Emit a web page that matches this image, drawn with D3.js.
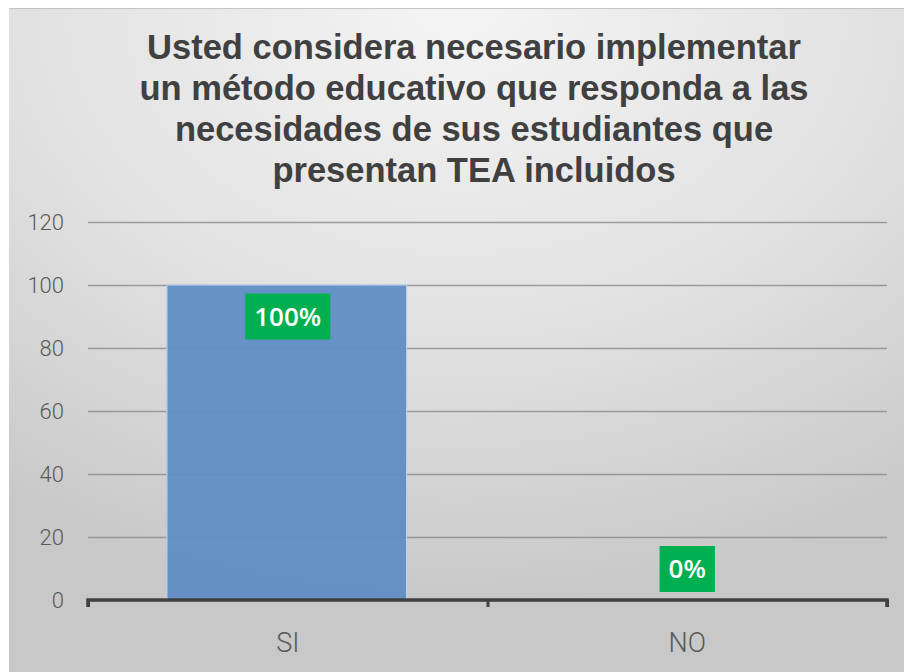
<!DOCTYPE html>
<html>
<head>
<meta charset="utf-8">
<script src="https://cdn.jsdelivr.net/npm/d3@7"></script>
<style>
  body { margin: 0; background: #fff; }
  svg { display: block; }
</style>
</head>
<body>
<svg></svg>
<script>
// chart data
var categories = ["SI", "NO"];
var values = [100, 0];
var labels = ["100%", "0%"];
var yTicks = [0, 20, 40, 60, 80, 100, 120];
var titleLines = [
  "Usted considera necesario implementar",
  "un método educativo que responda a las",
  "necesidades de sus estudiantes que",
  "presentan TEA incluidos"
];

var W = 904, H = 672;
var margin = {top: 222, right: 17, bottom: 72, left: 88};
var width = W - margin.left - margin.right;
var height = H - margin.top - margin.bottom;

var svg = d3.select("svg").attr("width", W).attr("height", H);

// background gradient like the office chart
var defs = svg.append("defs");
var grad = defs.append("radialGradient")
  .attr("id", "bg")
  .attr("cx", "50%").attr("cy", "0%").attr("r", "90%");
grad.append("stop").attr("offset", "0%").attr("stop-color", "#f4f4f4");
grad.append("stop").attr("offset", "55%").attr("stop-color", "#e1e1e1");
grad.append("stop").attr("offset", "100%").attr("stop-color", "#c8c8c8");

svg.append("rect")
  .attr("x", 9).attr("y", 8)
  .attr("width", W - 9).attr("height", H - 8)
  .attr("fill", "url(#bg)");
svg.append("line")
  .attr("x1", 9).attr("x2", W).attr("y1", 8.5).attr("y2", 8.5)
  .attr("stroke", "#c4c4c4").attr("stroke-width", 1);

// title
svg.append("g").selectAll("text")
  .data(titleLines)
  .enter().append("text")
  .attr("x", 474)
  .attr("y", function(d, i) { return 59 + i * 41; })
  .attr("text-anchor", "middle")
  .attr("font-family", "Liberation Sans, Arial, sans-serif")
  .attr("font-weight", "bold")
  .attr("font-size", 34.5)
  .attr("fill", "#404040")
  .text(function(d) { return d; });

var g = svg.append("g")
  .attr("transform", "translate(" + margin.left + "," + margin.top + ")");

var x = d3.scaleBand().domain(categories).range([0, width]).paddingInner(0.4).paddingOuter(0.2);
var y = d3.scaleLinear().domain([0, 120]).range([height, 0]);

// grid lines
g.append("g")
  .call(d3.axisLeft(y).tickValues(yTicks).tickSize(-width).tickFormat(""))
  .call(function(s) {
    s.select(".domain").remove();
    s.selectAll("line").attr("stroke", "#8a8a8a").attr("stroke-width", 1.4).attr("opacity", 0.8);
  });

// y tick labels
g.append("g")
  .call(d3.axisLeft(y).tickValues(yTicks).tickSize(0).tickPadding(24))
  .call(function(s) {
    s.select(".domain").remove();
    s.selectAll("text")
      .attr("font-family", "Roboto, Open Sans, sans-serif")
      .attr("font-weight", 300)
      .attr("font-size", 22)
      .attr("fill", "#595959");
  });

// bars
g.selectAll(".bar")
  .data(values)
  .enter().append("rect")
  .attr("class", "bar")
  .attr("x", function(d, i) { return x(categories[i]) - 1; })
  .attr("y", function(d) { return y(d); })
  .attr("width", x.bandwidth())
  .attr("height", function(d) { return height - y(d); })
  .attr("fill", "#5f8dc4")
  .attr("fill-opacity", 0.95)
  .attr("stroke", "#b8d0ee")
  .attr("stroke-width", 1.2);

// x axis
var xAxis = d3.scalePoint().domain([0, 1, 2]).range([0, width]);
g.append("g")
  .attr("transform", "translate(0," + height + ")")
  .call(d3.axisBottom(xAxis).tickSize(7).tickFormat(""))
  .call(function(s) {
    s.select(".domain").attr("stroke", "#404040").attr("stroke-width", 3.5)
      .attr("d", "M0,7V0H" + width + "V7");
    s.selectAll("line").attr("stroke", "#404040").attr("stroke-width", 3);
  });

// category labels
g.selectAll(".cat")
  .data(categories)
  .enter().append("text")
  .attr("class", "cat")
  .attr("x", function(d) { return x(d) + x.bandwidth() / 2; })
  .attr("y", height + 52)
  .attr("text-anchor", "middle")
  .attr("font-family", "Roboto, Open Sans, sans-serif")
  .attr("font-weight", 300)
  .attr("font-size", 27)
  .attr("fill", "#595959")
  .text(function(d) { return d; });

// data labels in green boxes
var lab = g.selectAll(".lab")
  .data(values)
  .enter().append("g")
  .attr("class", "lab")
  .attr("transform", function(d, i) {
    var cx = x(categories[i]) + x.bandwidth() / 2;
    var cy = d > 0 ? y(d) + 31.5 : y(d) - 31;
    return "translate(" + cx + "," + cy + ")";
  });

lab.append("text")
  .attr("text-anchor", "middle")
  .attr("dy", "0.36em")
  .attr("font-family", "Open Sans, Liberation Sans, sans-serif")
  .attr("font-weight", "600")
  .attr("font-size", 26)
  .attr("fill", "#ffffff")
  .text(function(d, i) { return labels[i]; });

lab.each(function() {
  var t = d3.select(this).select("text");
  var bb = t.node().getBBox();
  d3.select(this).insert("rect", "text")
    .attr("x", bb.x - 9)
    .attr("y", -23)
    .attr("width", bb.width + 18)
    .attr("height", 46)
    .attr("fill", "#00b050");
});
</script>
</body>
</html>
